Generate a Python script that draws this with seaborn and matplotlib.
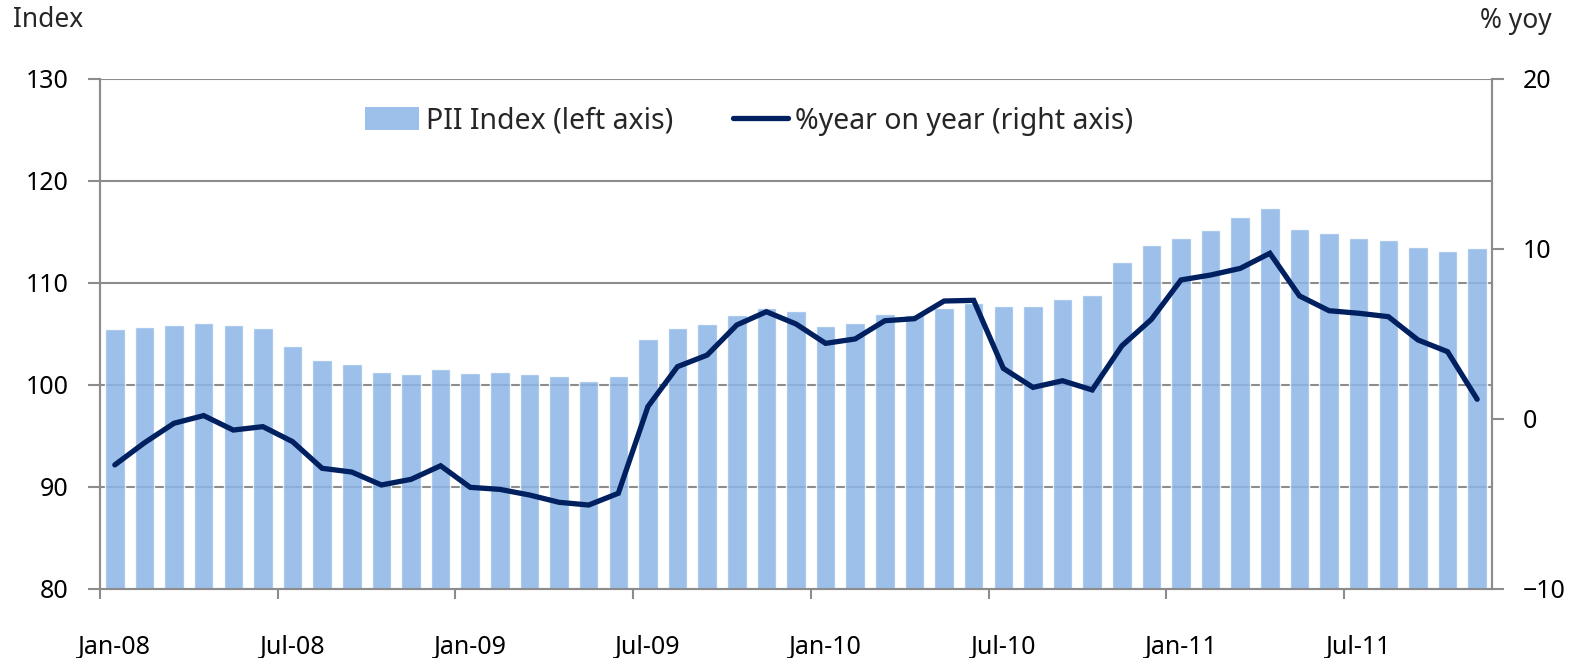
import numpy as np
import pandas as pd
import matplotlib
matplotlib.use("Agg")
import matplotlib.pyplot as plt
import seaborn as sns
from matplotlib.patches import Patch
from matplotlib.lines import Line2D

months = pd.date_range("2008-01-01", "2011-11-01", freq="MS").strftime("%b-%y").tolist()

pii_index = [105.5, 105.7, 105.9, 106.1, 105.9, 105.6, 103.8, 102.5, 102.1, 101.3, 101.1, 101.6,
             101.2, 101.3, 101.1, 100.9, 100.4, 100.9,
             104.5, 105.6, 106.0, 106.9, 107.5, 107.3,
             105.8, 106.1, 107.0, 106.9, 107.5, 108.0, 107.7, 107.7, 108.4, 108.8, 112.1, 113.7,
             114.4, 115.2, 116.5, 117.4, 115.3, 114.9, 114.4, 114.2, 113.5, 113.1, 113.4]

yoy = [-2.7, -1.4, -0.25, 0.2, -0.65, -0.45, -1.33, -2.9, -3.12, -3.88, -3.55, -2.75,
       -4.02, -4.14, -4.47, -4.9, -5.06, -4.37,
       0.73, 3.08, 3.76, 5.53, 6.31, 5.59,
       4.45, 4.71, 5.78, 5.9, 6.94, 6.98, 2.98, 1.86, 2.25, 1.71, 4.3, 5.86,
       8.18, 8.47, 8.86, 9.75, 7.24, 6.37, 6.22, 6.02, 4.65, 3.96, 1.16]

left_ticks = [80, 90, 100, 110, 120, 130]
right_ticks = [-10, 0, 10, 20]

df = pd.DataFrame({"month": months, "pii": pii_index, "yoy": yoy, "pos": np.arange(len(months))})

sns.set_theme(style="white")
plt.rcParams["font.family"] = ["Noto Sans", "DejaVu Sans"]

fig = plt.figure(figsize=(15.7, 6.58), dpi=100)
ax = fig.add_axes([100 / 1570, 69 / 658, 1392 / 1570, 510 / 658])

bar_color = "#8cb5e7"
line_color = "#002060"
grid_color = "#8c8c8c"

sns.barplot(data=df, x="month", y="pii", ax=ax, color=bar_color, alpha=0.85,
            width=0.66, saturation=1, zorder=3)
ax.set_ylim(80, 130)
ax.set_xlim(-0.5, len(months) - 0.5)
ax.set_yticks(left_ticks)
ax.set_axisbelow(True)
for t in left_ticks[1:]:
    ax.axhline(t, color=grid_color, lw=1.5, zorder=1)

ax2 = ax.twinx()
sns.lineplot(data=df, x="pos", y="yoy", ax=ax2, color=line_color, lw=3.8,
             solid_capstyle="round", solid_joinstyle="miter", zorder=5)
ax2.set_ylim(-10, 20)
ax2.set_yticks(right_ticks)
ax2.set_xlim(-0.5, len(months) - 0.5)

# x ticks: major at month boundaries (Jan/Jul), labels at category centres
n = len(months)
bound_pos = [i - 0.5 for i in range(0, n, 6)]
label_pos = list(range(0, n, 6))
ax.set_xticks(bound_pos)
ax.set_xticklabels([""] * len(bound_pos))
ax.set_xticks(label_pos, minor=True)
ax.set_xticklabels([months[i] for i in label_pos], minor=True)
ax.tick_params(axis="x", which="major", direction="out", length=7, width=1.5, color=grid_color, bottom=True)
ax.tick_params(axis="x", which="minor", length=0, pad=33, labelsize=18, labelcolor="black", bottom=True)
ax.tick_params(axis="y", direction="out", length=8.5, width=1.5, color=grid_color, pad=14,
               labelsize=18, labelcolor="black", left=True)
ax2.tick_params(axis="y", direction="out", length=8.5, width=1.5, color=grid_color, pad=14,
                labelsize=18, labelcolor="black", right=True)

ax.set_xlabel("")
ax.set_ylabel("")
ax2.set_xlabel("")
ax2.set_ylabel("")

for a in (ax, ax2):
    for s in ["left", "right", "bottom"]:
        a.spines[s].set_visible(True)
        a.spines[s].set_color(grid_color)
        a.spines[s].set_linewidth(1.5)
    a.spines["top"].set_visible(False)

fig.text(13 / 1570, 1 - 20 / 658, "Index", fontsize=19, va="center", ha="left")
fig.text(1552 / 1570, 1 - 21 / 658, "% yoy", fontsize=19, va="center", ha="right")

handles = [Patch(facecolor=bar_color, alpha=0.85, edgecolor="none", label="PII Index (left axis)"),
           Line2D([0], [0], color=line_color, lw=3.8, solid_capstyle="round", label="%year on year (right axis)")]
fig.legend(handles=handles, loc="center", bbox_to_anchor=(749 / 1570, 1 - 121 / 658), ncol=2,
           frameon=False, fontsize=20.5, handlelength=1.9, handleheight=0.83, handletextpad=0.25,
           columnspacing=2.1)

fig.savefig("out.png", dpi=100)
